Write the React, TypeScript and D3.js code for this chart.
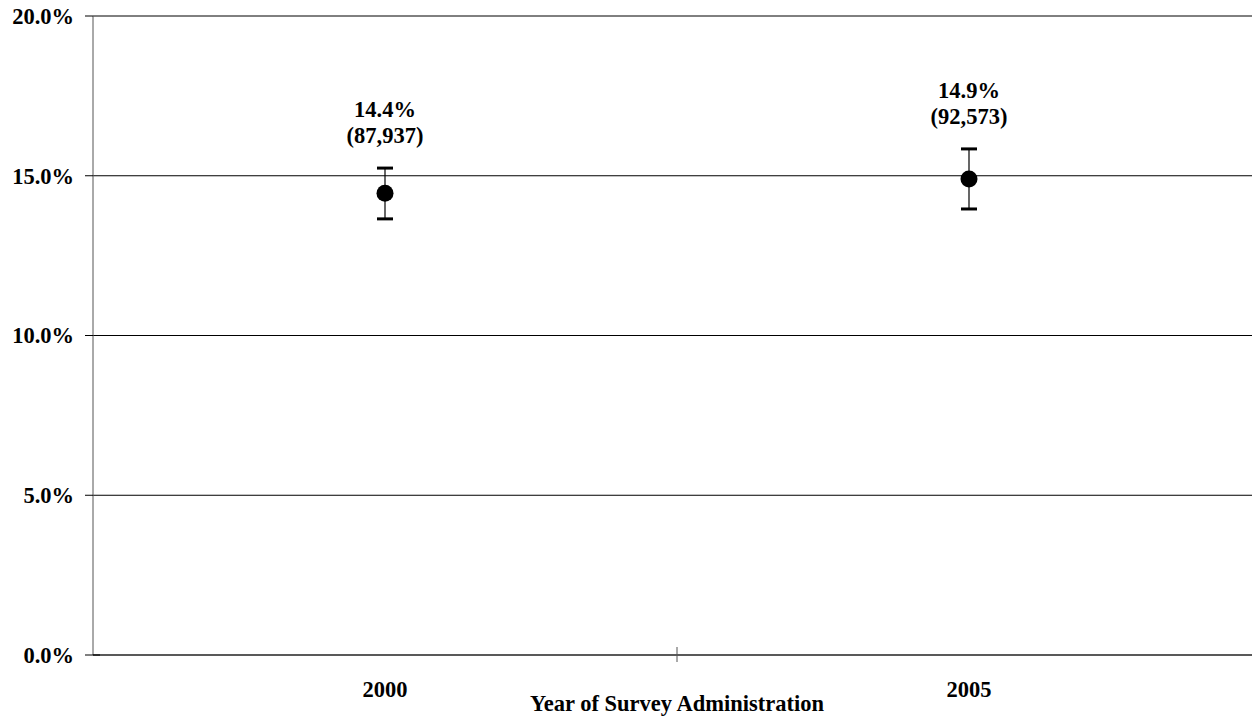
import React from "react";
import * as d3 from "d3";

const categories = ["2000", "2005"];
const values = [14.45, 14.9];
const lowers = [13.65, 13.96];
const uppers = [15.24, 15.84];
const labelPct = ["14.4%", "14.9%"];
const labelN = ["(87,937)", "(92,573)"];
const yTicks = [0, 5, 10, 15, 20];
const xTitle = "Year of Survey Administration";

const W = 1252;
const H = 718;
const left = 93;
const right = 1261;
const top = 16;
const bottom = 655;
const font = "Liberation Serif, Times New Roman, DejaVu Serif, serif";

export default function App() {
  const x = d3.scaleBand<string>().domain(categories).range([left, right]).padding(0);
  const y = d3.scaleLinear().domain([0, 20]).range([bottom, top]);
  const bw = x.bandwidth();
  const ts: React.CSSProperties = { fontFamily: font, fontWeight: 700, fontSize: "22.5px" };
  return (
    <svg width={W} height={H} style={{ position: "absolute", left: 0, top: 0 }}>
      {yTicks.filter((t) => t > 0).map((t) => (
        <line key={"g" + t} x1={left} x2={right} y1={y(t)} y2={y(t)} stroke="#000" strokeWidth={1} />
      ))}
      <line x1={left} x2={left} y1={top} y2={bottom} stroke="#555" strokeWidth={1} />
      <line x1={left} x2={right} y1={bottom} y2={bottom} stroke="#222" strokeWidth={1.5} />
      {yTicks.map((t) => (
        <g key={"t" + t}>
          <line x1={left - 8} x2={left + (t === 0 ? 7 : 0)} y1={y(t)} y2={y(t)} stroke="#000" strokeWidth={1} />
          <text x={left - 19} y={y(t)} dy="0.35em" textAnchor="end" style={ts}>
            {t.toFixed(1) + "%"}
          </text>
        </g>
      ))}
      {categories.slice(1).map((c) => (
        <line key={"xt" + c} x1={x(c)!} x2={x(c)!} y1={bottom - 8} y2={bottom + 7} stroke="#555" strokeWidth={1} />
      ))}
      {categories.map((c, i) => {
        const cx = x(c)! + bw / 2;
        return (
          <g key={c}>
            <line x1={cx} x2={cx} y1={y(uppers[i])} y2={y(lowers[i])} stroke="#000" strokeWidth={1.2} />
            <line x1={cx - 8} x2={cx + 8} y1={y(uppers[i])} y2={y(uppers[i])} stroke="#000" strokeWidth={3} />
            <line x1={cx - 8} x2={cx + 8} y1={y(lowers[i])} y2={y(lowers[i])} stroke="#000" strokeWidth={3} />
            <circle cx={cx} cy={y(values[i])} r={8.5} fill="#000" />
            <text x={cx} y={y(uppers[i]) - 51} textAnchor="middle" style={ts}>
              {labelPct[i]}
            </text>
            <text x={cx} y={y(uppers[i]) - 25} textAnchor="middle" style={ts}>
              {labelN[i]}
            </text>
            <text x={cx} y={bottom + 42} textAnchor="middle" style={ts}>
              {c}
            </text>
          </g>
        );
      })}
      <text x={(left + right) / 2} y={bottom + 56} textAnchor="middle" style={ts}>
        {xTitle}
      </text>
    </svg>
  );
}
